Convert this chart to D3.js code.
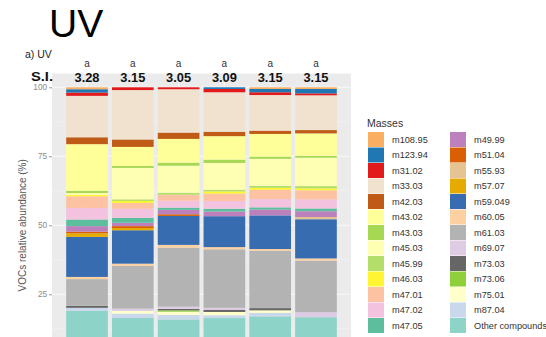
<!DOCTYPE html>
<html>
<head>
<meta charset="utf-8">
<script src="https://cdn.jsdelivr.net/npm/d3@7"></script>
<style>
  html, body { margin: 0; padding: 0; background: #fff; }
  svg { display: block; font-family: "Liberation Sans", Arial, sans-serif; }
</style>
</head>
<body>
<svg id="chart" width="546" height="337"></svg>
<script>
// Volatile masses, listed top of the stack first (legend order)
const masses = ["m108.95","m123.94","m31.02","m33.03","m42.03","m43.02","m43.03","m45.03","m45.99",
  "m46.03","m47.01","m47.02","m47.05","m49.99","m51.04","m55.93","m57.07","m59.049","m60.05",
  "m61.03","m69.07","m73.03","m73.06","m75.01","m87.04","Other compounds"];

const massColors = ["#F9AE62","#1F78B4","#E31A1C","#F1E2CF","#BF5B17","#FFFF99","#A6D854","#FFFFB3","#B3DE69",
  "#FFF533","#FDC2A2","#F3C2DE","#5DBE9E","#BC80BD","#D95F02","#E5C494","#E6AB02","#386CB0","#FDD0A2",
  "#B3B3B3","#DECBE4","#666666","#8FCF3C","#FFFFCC","#C9D8EA","#8DD3C7"];

const samples = ["UV1","UV2","UV3","UV4","UV5","UV6"];

// Relative abundance (%) of each mass per sample, in the order of `masses`
const sample1 = [0.7,1.2,1.2,15.0,2.5,16.9,0.8,0.6,0,0.6,4.2,4.2,2.4,2.0,0.6,0,1.3,14.5,0.8,9.7,0,0.7,0,0,1.1,19.0];
const sample2 = [0,0,1.0,17.9,2.7,6.9,0.7,11.4,0.6,0.7,2.1,3.3,1.8,1.2,0.7,0,0.8,12.1,0.8,15.5,0.8,0,0,1.0,1.6,16.4];
const sample3 = [0,0,0.7,15.7,2.3,8.6,1.1,9.8,0.7,0,2.2,2.5,0.8,1.6,0.6,0,0,10.5,1.0,21.4,0.8,0.5,0.5,1.2,1.6,15.9];
const sample4 = [0,0.6,1.2,14.3,1.6,8.5,1.2,9.7,0.6,0.8,2.7,2.8,1.0,1.7,0,0,0,11.2,0.8,21.2,0.7,0.8,0,1.2,1.0,16.4];
const sample5 = [0.6,1.2,1.0,12.9,1.2,8.2,0.8,9.8,0.7,0.7,3.4,3.0,0.8,2.1,0,0,0,12.2,0.6,20.8,0,0.8,0,0.9,1.3,17.0];
const sample6 = [0.6,1.6,0.7,12.6,1.2,8.1,0.7,10.3,0.8,0.7,3.3,3.3,1.0,2.1,0,0.8,0,14.2,0.8,18.7,1.8,0,0,0,0,16.7];

const siValues = ["3.28","3.15","3.05","3.09","3.15","3.15"];
const siLetters = ["a","a","a","a","a","a"];
const yTicks = [25, 50, 75, 100];

const sampleValues = [sample1, sample2, sample3, sample4, sample5, sample6];
const rows = samples.map((s, i) => {
  const r = { sample: s };
  masses.forEach((m, j) => { r[m] = sampleValues[i][j]; });
  return r;
});

const svg = d3.select("#chart");

// panel geometry
const panel = { left: 52, right: 351, top: 73.5, bottom: 377.1 };

const x = d3.scaleBand().domain(samples)
  .range([panel.left, panel.right]).paddingInner(0.09).paddingOuter(0.31);
const y = d3.scaleLinear().domain([-5, 105]).range([panel.bottom, panel.top]);
const color = d3.scaleOrdinal().domain(masses).range(massColors);

// panel background and grid
svg.append("rect").attr("x", panel.left).attr("y", panel.top)
  .attr("width", panel.right - panel.left).attr("height", panel.bottom - panel.top)
  .attr("fill", "#EBEBEB");
const minor = [12.5, 37.5, 62.5, 87.5];
svg.append("g").selectAll("line").data(minor).join("line")
  .attr("x1", panel.left).attr("x2", panel.right)
  .attr("y1", d => y(d)).attr("y2", d => y(d))
  .attr("stroke", "#F5F5F5").attr("stroke-width", 0.6);
svg.append("g").selectAll("line").data([0].concat(yTicks)).join("line")
  .attr("x1", panel.left).attr("x2", panel.right)
  .attr("y1", d => y(d)).attr("y2", d => y(d))
  .attr("stroke", "#FAFAFA").attr("stroke-width", 1.1);
svg.append("g").selectAll("line").data(samples).join("line")
  .attr("x1", d => x(d) + x.bandwidth() / 2).attr("x2", d => x(d) + x.bandwidth() / 2)
  .attr("y1", panel.top).attr("y2", panel.bottom)
  .attr("stroke", "#FAFAFA").attr("stroke-width", 1.1);

// stacked bars: first mass sits on top, "Other compounds" at the bottom
const stackKeys = masses.slice().reverse();
const series = d3.stack().keys(stackKeys)(rows);
svg.append("g").selectAll("g").data(series).join("g")
  .attr("fill", d => color(d.key))
  .selectAll("rect").data(d => d).join("rect")
  .attr("x", d => x(d.data.sample))
  .attr("width", x.bandwidth())
  .attr("y", d => y(d[1]))
  .attr("height", d => Math.max(0, y(d[0]) - y(d[1])));

// y axis
const yAxis = d3.axisLeft(y).tickValues(yTicks).tickSize(3).tickPadding(2);
const ya = svg.append("g").attr("transform", `translate(${panel.left},0)`).call(yAxis);
ya.select(".domain").remove();
ya.selectAll(".tick line").attr("stroke", "#9a9a9a");
ya.selectAll(".tick text").attr("fill", "#8a8a8a").attr("font-size", 8.2)
  .attr("font-family", "Liberation Sans, Arial, sans-serif");

svg.append("text")
  .attr("transform", `translate(26,${(panel.top + panel.bottom) / 2}) rotate(-90)`)
  .attr("text-anchor", "middle").attr("font-size", 10).attr("fill", "#555")
  .text("VOCs relative abundance (%)");

// stability index labels above each bar
svg.append("g").selectAll("text").data(siValues).join("text")
  .attr("x", (d, i) => x(samples[i]) + x.bandwidth() / 2)
  .attr("y", 81.5).attr("text-anchor", "middle")
  .attr("font-size", 12.5).attr("font-weight", "bold").attr("fill", "#111")
  .attr("textLength", 25).attr("lengthAdjust", "spacingAndGlyphs")
  .text(d => d);
svg.append("g").selectAll("text").data(siLetters).join("text")
  .attr("x", (d, i) => x(samples[i]) + x.bandwidth() / 2)
  .attr("y", 66.5).attr("text-anchor", "middle")
  .attr("font-size", 10).attr("fill", "#333")
  .text(d => d);
svg.append("text").attr("x", 31).attr("y", 80.5)
  .attr("font-size", 12).attr("font-weight", "bold").attr("fill", "#111")
  .attr("textLength", 22).attr("lengthAdjust", "spacingAndGlyphs")
  .text("S.I.");

// titles
svg.append("text").attr("x", 49).attr("y", 37)
  .attr("font-size", 39).attr("fill", "#000").text("UV");
svg.append("text").attr("x", 25).attr("y", 58)
  .attr("font-size", 10.5).attr("fill", "#222").text("a) UV");

// legend in two columns of 13
const legend = svg.append("g");
legend.append("text").attr("x", 367).attr("y", 127)
  .attr("font-size", 10.5).attr("fill", "#333").text("Masses");
const rowH = 15.5, firstRow = 139.5;
const legItems = legend.selectAll("g").data(masses).join("g")
  .attr("transform", (d, i) => {
    const col = Math.floor(i / 13), row = i % 13;
    return `translate(${col === 0 ? 368 : 450},${firstRow + row * rowH})`;
  });
legItems.append("rect").attr("x", 0).attr("y", -7.5).attr("width", 16).attr("height", 15)
  .attr("fill", d => color(d));
legItems.append("text").attr("x", 24).attr("y", 3.3)
  .attr("font-size", 9.2).attr("fill", "#333").text(d => d);
</script>
</body>
</html>
